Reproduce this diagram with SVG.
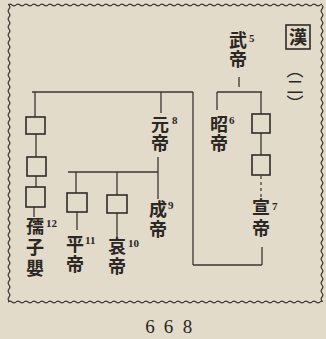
<svg xmlns="http://www.w3.org/2000/svg" width="326" height="339" viewBox="0 0 326 339">
<style>
.bg{fill:#e3dbc9}
.cj{font-family:"Noto Sans CJK JP","Noto Sans CJK SC",sans-serif;font-size:18px;font-weight:700;fill:#2b2724;text-anchor:middle}
.vt{font-family:"Noto Sans CJK JP","Noto Sans CJK SC",sans-serif;font-size:18px;font-weight:700;fill:#2b2724;writing-mode:vertical-rl;text-anchor:start;letter-spacing:1px}
.sup{font-family:"Liberation Serif",serif;font-size:11px;font-weight:700;fill:#2b2724}
.ln{stroke:#3a3531;stroke-width:1.3;fill:none}
.dash{stroke:#3a3531;stroke-width:1.2;fill:none;stroke-dasharray:3,3}
.box{stroke:#2f2b28;stroke-width:1.6;fill:none}
.pg{font-family:"Liberation Serif",serif;font-size:19px;fill:#2b2724;text-anchor:middle}
</style>
<defs>
<pattern id="wave" width="8" height="4" patternUnits="userSpaceOnUse">
<path d="M0,2 Q2,0.3 4,2 T8,2" fill="none" stroke="#3a3531" stroke-width="1.1"/>
</pattern>
</defs>
<rect class="bg" x="0" y="0" width="326" height="339"/>
<g id="frame">
<rect transform="translate(8,3)" width="314" height="4" fill="url(#wave)"/>
<rect transform="translate(8,300)" width="314" height="4" fill="url(#wave)"/>
<rect width="297" height="4" fill="url(#wave)" style="transform:translate(11px,5px) rotate(90deg)"/>
<rect width="297" height="4" fill="url(#wave)" style="transform:translate(324px,5px) rotate(90deg)"/>
</g>
<g id="connectors">
<path class="ln" d="M239,77V87"/>
<path class="ln" d="M217,92H262"/>
<path class="ln" d="M217,92V110"/>
<path class="ln" d="M261,92V114"/>
<path class="ln" d="M261,133V155"/>
<path class="dash" d="M261,176V197"/>
<path class="ln" d="M262,247V265"/>
<path class="ln" d="M193,265H262"/>
<path class="ln" d="M193,92V265"/>
<path class="ln" d="M32,92H193"/>
<path class="ln" d="M35,92V117"/>
<path class="ln" d="M36,134V157"/>
<path class="ln" d="M36,176V187"/>
<path class="ln" d="M34,207V217"/>
<path class="ln" d="M161,92V113"/>
<path class="ln" d="M158,157V199"/>
<path class="ln" d="M68,172H158"/>
<path class="ln" d="M76,172V193"/>
<path class="ln" d="M77,212V230"/>
<path class="ln" d="M117,172V195"/>
<path class="ln" d="M117,213V237"/>
</g>
<g id="title">
<rect class="box" x="286" y="25" width="24" height="24" stroke-width="1.3"/>
<text class="cj" x="298" y="44" font-size="19">漢</text>
<text class="vt" x="295" y="61" style="font-size:17px;font-weight:400;letter-spacing:0">（二）</text>
</g>
<g id="wudi"><text class="vt" x="238" y="31">武帝</text><text class="sup" x="249" y="42">5</text></g>
<g id="zhaodi"><text class="vt" x="219" y="115">昭帝</text><text class="sup" x="229" y="124">6</text></g>
<g id="box-a"><rect class="box" x="252" y="114" width="18" height="19"/></g>
<g id="box-b"><rect class="box" x="252" y="155" width="18" height="20"/></g>
<g id="xuandi"><text class="vt" x="261" y="198" style="letter-spacing:3px">宣帝</text><text class="sup" x="272" y="210">7</text></g>
<g id="yuandi"><text class="vt" x="160" y="115">元帝</text><text class="sup" x="172" y="124">8</text></g>
<g id="chengdi"><text class="vt" x="158" y="200" style="letter-spacing:2px">成帝</text><text class="sup" x="168" y="209">9</text></g>
<g id="box1"><rect class="box" x="26" y="117" width="19" height="17"/></g>
<g id="box2"><rect class="box" x="27" y="157" width="19" height="19"/></g>
<g id="box3"><rect class="box" x="26" y="187" width="19" height="20"/></g>
<g id="ruzi"><text class="vt" x="35" y="217" style="letter-spacing:3px">孺子嬰</text><text class="sup" x="46" y="227">12</text></g>
<g id="box-ping"><rect class="box" x="67" y="193" width="20" height="19"/></g>
<g id="pingdi"><text class="vt" x="75" y="235" style="letter-spacing:2px">平帝</text><text class="sup" x="85" y="244">11</text></g>
<g id="box-ai"><rect class="box" x="107" y="195" width="20" height="18"/></g>
<g id="aidi"><text class="vt" x="117" y="237" style="letter-spacing:2px">哀帝</text><text class="sup" x="128" y="247">10</text></g>
<g id="page"><text class="pg" x="150" y="333">6</text><text class="pg" x="168.5" y="333">6</text><text class="pg" x="187.5" y="333">8</text></g>
</svg>
